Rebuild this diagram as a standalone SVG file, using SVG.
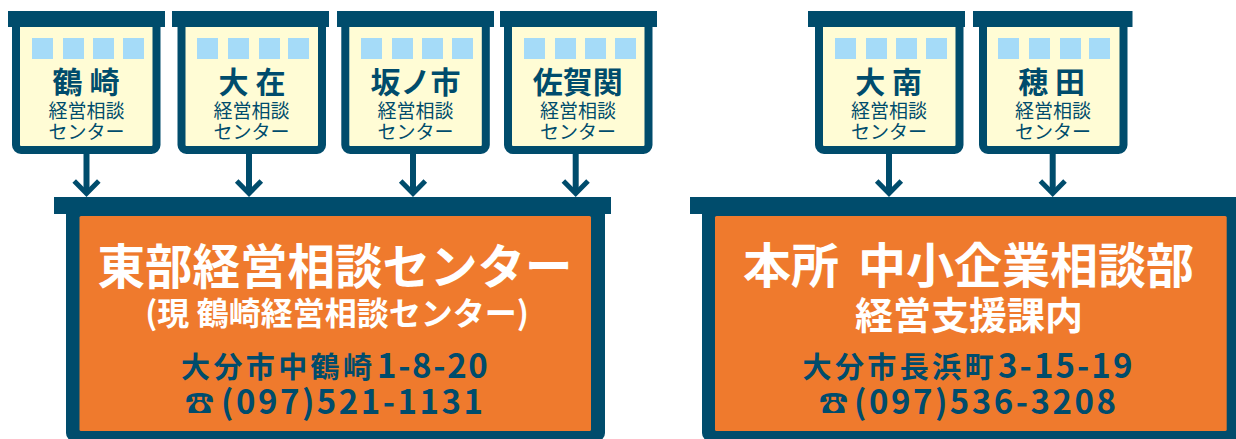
<svg xmlns="http://www.w3.org/2000/svg" width="1236" height="439" viewBox="0 0 1236 439">
<style>
text{font-family:"Noto Sans CJK JP","Noto Sans",sans-serif;text-anchor:middle}
.hd{fill:#004c6c}
.sb{fill:#fffcd5;stroke:#004c6c;stroke-width:8}
.w{fill:#a5dbf8}
.n{font-size:30px;font-weight:700;fill:#004c6c}
.s{font-size:19px;fill:#004c6c}
.out{fill:#004c6c}
.in{fill:#ef7a2d}
.t{font-weight:700;fill:#fff}
.st{text-anchor:start}
.a{font-size:29px;font-weight:700;fill:#004c6c;text-anchor:start}
.d{font-size:33px;letter-spacing:1.7px}
.p{font-size:33px;letter-spacing:2.5px}
.j{letter-spacing:3.4px}
.c{fill:none;stroke:#004c6c;stroke-width:6}
.ch{fill:none;stroke:#004c6c;stroke-width:5}
</style>
<g id="connectors">
<path class="c" d="M86.5 154V193"/><path class="ch" d="M74.2 181L86.5 193.5L98.8 181"/>
<path class="c" d="M249 154V193"/><path class="ch" d="M236.7 181L249 193.5L261.3 181"/>
<path class="c" d="M413 154V193"/><path class="ch" d="M400.7 181L413 193.5L425.3 181"/>
<path class="c" d="M575.7 154V193"/><path class="ch" d="M563.4 181L575.7 193.5L588 181"/>
<path class="c" d="M889 154V193"/><path class="ch" d="M876.7 181L889 193.5L901.3 181"/>
<path class="c" d="M1052.7 154V193"/><path class="ch" d="M1040.4 181L1052.7 193.5L1065 181"/>
</g>
<g id="n1"><rect class="sb" x="16" y="20" width="140.5" height="130" rx="5"/><rect class="hd" x="8" y="11" width="157" height="16"/>
<rect class="w" x="32" y="38" width="21" height="21"/><rect class="w" x="63" y="38" width="21" height="21"/><rect class="w" x="93" y="38" width="21" height="21"/><rect class="w" x="123" y="38" width="21" height="21"/>
<text class="n" x="86" y="93" xml:space="preserve">鶴 崎</text><text class="s" x="86.500" y="118">経営相談</text><text class="s" x="86.500" y="139">センター</text></g>
<g id="n2"><rect class="sb" x="181.500" y="20" width="140.500" height="130" rx="5"/><rect class="hd" x="172" y="11" width="157" height="16"/>
<rect class="w" x="197" y="38" width="21" height="21"/><rect class="w" x="228" y="38" width="21" height="21"/><rect class="w" x="259" y="38" width="21" height="21"/><rect class="w" x="288" y="38" width="21" height="21"/>
<text class="n" x="252" y="93" xml:space="preserve">大 在</text><text class="s" x="251.500" y="118">経営相談</text><text class="s" x="251.500" y="139">センター</text></g>
<g id="n3"><rect class="sb" x="345.300" y="20" width="140.500" height="130" rx="5"/><rect class="hd" x="337" y="11" width="157" height="16"/>
<rect class="w" x="361" y="38" width="21" height="21"/><rect class="w" x="392" y="38" width="21" height="21"/><rect class="w" x="422" y="38" width="21" height="21"/><rect class="w" x="452" y="38" width="21" height="21"/>
<text class="n" x="415.500" y="93">坂ノ市</text><text class="s" x="415.500" y="118">経営相談</text><text class="s" x="415.500" y="139">センター</text></g>
<g id="n4"><rect class="sb" x="508" y="20" width="140.500" height="130" rx="5"/><rect class="hd" x="500" y="11" width="157" height="16"/>
<rect class="w" x="524" y="38" width="21" height="21"/><rect class="w" x="555" y="38" width="21" height="21"/><rect class="w" x="585" y="38" width="21" height="21"/><rect class="w" x="615" y="38" width="21" height="21"/>
<text class="n" x="577.700" y="93">佐賀関</text><text class="s" x="578" y="118">経営相談</text><text class="s" x="578" y="139">センター</text></g>
<g id="n5"><rect class="sb" x="819" y="20" width="140.500" height="130" rx="5"/><rect class="hd" x="808" y="11" width="157" height="16"/>
<rect class="w" x="835" y="38" width="21" height="21"/><rect class="w" x="866" y="38" width="21" height="21"/><rect class="w" x="896" y="38" width="21" height="21"/><rect class="w" x="926" y="38" width="21" height="21"/>
<text class="n" x="888.700" y="93" xml:space="preserve">大 南</text><text class="s" x="889" y="118">経営相談</text><text class="s" x="889" y="139">センター</text></g>
<g id="n6"><rect class="sb" x="983" y="20" width="140.500" height="130" rx="5"/><rect class="hd" x="973" y="11" width="159.500" height="16"/>
<rect class="w" x="998" y="38" width="21" height="21"/><rect class="w" x="1029" y="38" width="21" height="21"/><rect class="w" x="1060" y="38" width="21" height="21"/><rect class="w" x="1089" y="38" width="21" height="21"/>
<text class="n" x="1051.700" y="93" xml:space="preserve">穂 田</text><text class="s" x="1053" y="118">経営相談</text><text class="s" x="1053" y="139">センター</text></g>
<g id="east"><rect class="out" x="66" y="204" width="539" height="237" rx="8"/><rect class="hd" x="54" y="197" width="557" height="17"/><rect class="in" x="79.500" y="216" width="511.500" height="215" rx="1.500"/>
<text class="t" x="335" y="284" font-size="47.500">東部経営相談センター</text>
<text class="t" x="337" y="325" font-size="32">(現 鶴崎経営相談センター)</text>
<text class="a" y="378"><tspan class="j" x="181">大分市中鶴崎</tspan><tspan class="d" x="377">1-8-20</tspan></text>
<text class="a" y="414"><tspan x="185">☎</tspan><tspan class="p" x="221">(097)521-1131</tspan></text></g>
<g id="main"><rect class="out" x="702" y="204" width="545" height="237" rx="8"/><rect class="hd" x="690" y="197" width="546" height="17"/><rect class="in" x="715" y="216" width="511.700" height="215" rx="1.500"/>
<text class="t st" x="743" y="283" font-size="48">本所<tspan x="858">中小企業相談部</tspan></text>
<text class="t" x="969" y="329" font-size="38">経営支援課内</text>
<text class="a" y="378"><tspan class="j" x="802.500">大分市長浜町</tspan><tspan class="d" x="998" style="letter-spacing:2.1px">3-15-19</tspan></text>
<text class="a" y="414"><tspan x="819">☎</tspan><tspan class="p" x="854">(097)536-3208</tspan></text></g>
</svg>
